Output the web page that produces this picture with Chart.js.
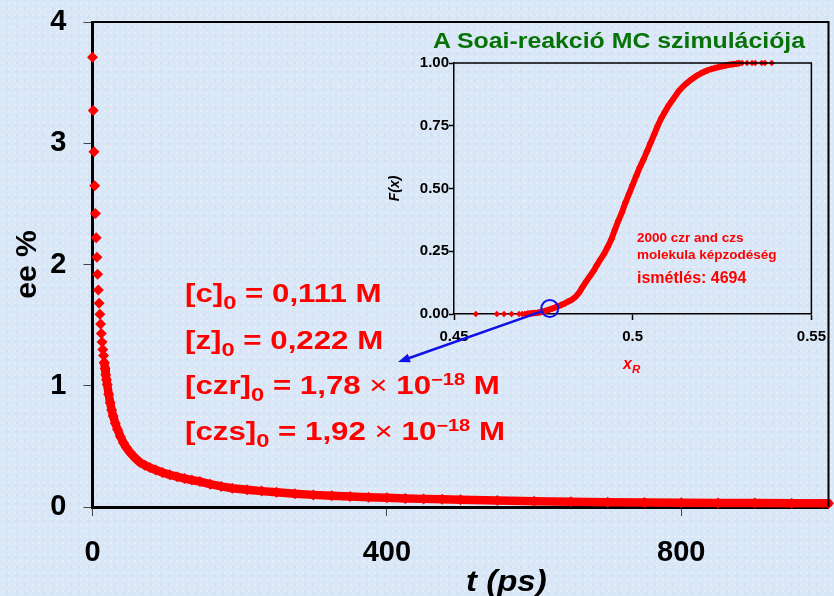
<!DOCTYPE html>
<html>
<head>
<meta charset="utf-8">
<script src="https://cdn.jsdelivr.net/npm/chart.js@4.4.1/dist/chart.umd.min.js"></script>
<style>
  body { margin: 0; }
  #wrap {
    position: relative; width: 834px; height: 596px; overflow: hidden;
    background-color: #d9e7f6;
    background-image:
      radial-gradient(rgba(255,255,255,0.30) 1px, transparent 1.6px),
      radial-gradient(rgba(185,205,235,0.25) 1px, transparent 1.6px),
      radial-gradient(rgba(240,228,240,0.30) 2px, transparent 3px);
    background-size: 6px 6px, 9px 9px, 23px 19px;
    background-position: 0 0, 3px 4px, 7px 2px;
    font-family: "Liberation Sans", Arial, sans-serif;
  }
  canvas { position: absolute; }
  .t { position: absolute; white-space: nowrap; font-weight: bold; line-height: 1; transform-origin: left top; }
  .ann { color: #ff0000; font-size: 25px; transform: scaleX(1.25); left: 185px; }
  .ann .sub { font-size: 19px; position: relative; top: 7px; }
  .ann .sup { font-size: 16px; position: relative; top: -9px; }
  .ann .x { font-weight: normal; }
</style>
</head>
<body>
<div id="wrap">
  <canvas id="main" width="834" height="596" style="left:0;top:0"></canvas>
  <canvas id="inset" width="454" height="400" style="left:380px;top:0"></canvas>

  <div class="t" style="left:433px;top:30px;font-size:22px;color:#077307;transform:scaleX(1.13)">A Soai-reakció MC szimulációja</div>
  <div class="t" style="left:637px;top:231px;font-size:13.5px;color:#ff0000">2000 czr and czs</div>
  <div class="t" style="left:637px;top:248px;font-size:13.5px;color:#ff0000">molekula képzodéség</div>
  <div class="t" style="left:637px;top:270px;font-size:16px;color:#ff0000">ismétlés: 4694</div>
  <div class="t" style="left:623px;top:356px;font-size:16px;color:#ff0000;font-style:italic">x<span style="font-size:11.5px;position:relative;top:4px">R</span></div>

  <div class="t ann" style="top:281px">[c]<span class="sub">0</span> = 0,111 M</div>
  <div class="t ann" style="top:328px">[z]<span class="sub">0</span> = 0,222 M</div>
  <div class="t ann" style="top:373px">[czr]<span class="sub">0</span> = 1,78 <span class="x">×</span> 10<span class="sup">−18</span> M</div>
  <div class="t ann" style="top:419px">[czs]<span class="sub">0</span> = 1,92 <span class="x">×</span> 10<span class="sup">−18</span> M</div>

  <div class="t" style="left:466px;top:566px;font-size:30px;font-style:italic;transform:scaleX(1.1)">t (ps)</div>
</div>

<script>
const FONT = '"Liberation Sans", Arial, sans-serif';

// main chart: ee % vs t (ps)
const earlyT  = [0, 1, 2, 3, 4, 5, 6, 7, 8, 9, 10, 11, 12, 13, 14, 15, 16];
const earlyEe = [3.71, 3.27, 2.93, 2.65, 2.42, 2.22, 2.06, 1.92, 1.79, 1.68, 1.59, 1.51, 1.43, 1.36, 1.30, 1.25, 1.19];
const bandT  = [16, 17, 18, 19, 20, 22, 24, 26, 28, 31, 34, 38, 42, 46, 51, 57, 64, 71, 78, 86, 95, 105, 115, 125, 135, 146,
                160, 175, 190, 210, 230, 250, 275, 300, 325, 350, 375, 400, 425, 450, 475, 500, 550, 600, 650, 700, 750,
                800, 850, 900, 950, 1000];
const bandEe = [1.19, 1.14, 1.09, 1.05, 1.01, 0.93, 0.86, 0.80, 0.75, 0.69, 0.64, 0.58, 0.53, 0.49, 0.45, 0.41, 0.37, 0.345,
                0.325, 0.305, 0.285, 0.265, 0.25, 0.235, 0.222, 0.21, 0.188, 0.170, 0.155, 0.142, 0.131, 0.121, 0.110,
                0.100, 0.092, 0.086, 0.081, 0.076, 0.071, 0.067, 0.063, 0.059, 0.053, 0.047, 0.043, 0.040, 0.038,
                0.036, 0.034, 0.032, 0.031, 0.030];
const mainXTicks = [0, 400, 800];
const mainYTicks = [0, 1, 2, 3, 4];

// inset: F(x) vs x_R
const insetLowX  = [0.4561, 0.4620, 0.4640, 0.4661, 0.4682, 0.4691, 0.4698];
const insetLowF  = [0, 0, 0, 0, 0, 0, 0];
const insetBandX = [0.4706, 0.4713, 0.4720, 0.4727, 0.4734, 0.4741, 0.4748, 0.4755, 0.4762, 0.4769, 0.4776, 0.4783, 0.4790,
                    0.4800, 0.4810, 0.4820, 0.4830, 0.4840, 0.4850, 0.4860, 0.4870, 0.4880, 0.4890, 0.4900, 0.4910,
                    0.4920, 0.4930, 0.4940, 0.4950, 0.4960, 0.4970, 0.4980, 0.4990, 0.5000, 0.5010, 0.5020, 0.5030,
                    0.5040, 0.5050, 0.5060, 0.5070, 0.5080, 0.5090, 0.5100, 0.5110, 0.5120, 0.5130, 0.5140, 0.5150,
                    0.5160, 0.5170, 0.5180, 0.5190, 0.5200, 0.5210, 0.5220, 0.5230, 0.5240, 0.5250, 0.5260, 0.5270,
                    0.5280, 0.5290, 0.5297];
const insetBandF = [0.001, 0.002, 0.003, 0.004, 0.005, 0.007, 0.009, 0.012, 0.015, 0.019, 0.022, 0.026, 0.030,
                    0.036, 0.042, 0.050, 0.057, 0.068, 0.085, 0.108, 0.130, 0.150, 0.170, 0.195, 0.218,
                    0.240, 0.267, 0.297, 0.335, 0.372, 0.405, 0.445, 0.480, 0.515, 0.550, 0.585, 0.615,
                    0.648, 0.682, 0.715, 0.750, 0.780, 0.805, 0.830, 0.850, 0.870, 0.890, 0.905, 0.918,
                    0.930, 0.940, 0.950, 0.958, 0.965, 0.971, 0.976, 0.980, 0.984, 0.987, 0.990, 0.993,
                    0.995, 0.997, 0.999];
const insetHighX = [0.5306, 0.5320, 0.5334, 0.5343, 0.5361, 0.5370, 0.5389];
const insetHighF = [1, 1, 1, 1, 1, 1, 1];
const insetXTicks  = [0.45, 0.5, 0.55];
const insetXLabels = ['0.45', '0.5', '0.55'];
const insetYTicks  = [0, 0.25, 0.5, 0.75, 1];
const insetYLabels = ['0.00', '0.25', '0.50', '0.75', '1.00'];
const circleAt = [0.4768, 0.022]; // blue circle marking the start of the inset curve

const pts = (xs, ys) => xs.map((v, i) => ({ x: v, y: ys[i] }));

// top and right frame of a plot area
const framePlugin = {
  id: 'frame',
  afterDraw(chart, args, opts) {
    const { ctx, chartArea: a } = chart;
    ctx.save();
    ctx.strokeStyle = '#000';
    ctx.lineWidth = opts.width;
    ctx.beginPath();
    ctx.moveTo(a.left, a.top);
    ctx.lineTo(a.right, a.top);
    ctx.lineTo(a.right, a.bottom);
    ctx.stroke();
    ctx.restore();
  }
};

// keep tick label padding from pushing the plot area down
const noPad = s => { s.paddingTop = 0; s.paddingBottom = 0; };

new Chart(document.getElementById('main'), {
  type: 'scatter',
  data: {
    datasets: [
      { data: pts(earlyT, earlyEe), pointStyle: 'rectRot', pointRadius: 5.5, pointBorderWidth: 0,
        pointBackgroundColor: '#ff0000', showLine: false, clip: false },
      { data: pts(bandT, bandEe), pointStyle: 'rectRot', pointRadius: 5.5, pointBorderWidth: 0,
        pointBackgroundColor: '#ff0000', showLine: true, borderColor: '#ff0000', borderWidth: 8.5,
        borderJoinStyle: 'round', borderCapStyle: 'round', clip: false }
    ]
  },
  options: {
    responsive: false, animation: false, devicePixelRatio: 1,
    layout: { padding: { top: 22, right: 4, left: 0, bottom: 0 } },
    plugins: { legend: { display: false }, tooltip: { enabled: false }, frame: { width: 2 } },
    scales: {
      x: {
        type: 'linear', min: 0, max: 1000,
        afterBuildTicks: s => { s.ticks = mainXTicks.map(v => ({ value: v })); },
        afterFit: s => { s.height = 89; },
        grid: { drawOnChartArea: false, tickLength: 9, tickColor: '#444', tickWidth: 1 },
        border: { color: '#000', width: 3 },
        ticks: { color: '#000', padding: 20, maxRotation: 0, autoSkip: false,
                 font: { family: FONT, size: 29, weight: 'bold' } }
      },
      y: {
        min: 0, max: 4,
        afterBuildTicks: s => { s.ticks = mainYTicks.map(v => ({ value: v })); },
        afterFit: s => { s.width = 92.5; noPad(s); },
        grid: { drawOnChartArea: false, tickLength: 9, tickColor: '#444', tickWidth: 1 },
        border: { color: '#000', width: 3 },
        ticks: { color: '#000', padding: 17, font: { family: FONT, size: 29, weight: 'bold' } },
        title: { display: true, text: 'ee %', color: '#000', padding: { top: 10, bottom: 0 },
                 font: { family: FONT, size: 30, weight: 'bold' } }
      }
    }
  },
  plugins: [framePlugin]
});

const markPlugin = {
  id: 'mark',
  afterDatasetsDraw(chart) {
    const { ctx, scales } = chart;
    const cx = scales.x.getPixelForValue(circleAt[0]);
    const cy = scales.y.getPixelForValue(circleAt[1]);
    const r = 8.5;
    const ex = 18, ey = 362; // arrow tip, left of the inset
    const dx = ex - cx, dy = ey - cy, len = Math.hypot(dx, dy);
    const ux = dx / len, uy = dy / len;
    ctx.save();
    ctx.strokeStyle = '#1010e8';
    ctx.fillStyle = '#1010e8';
    ctx.lineWidth = 2;
    ctx.beginPath();
    ctx.arc(cx, cy, r, 0, Math.PI * 2);
    ctx.stroke();
    ctx.lineWidth = 2.5;
    ctx.beginPath();
    ctx.moveTo(cx + ux * r, cy + uy * r);
    ctx.lineTo(ex - ux * 9, ey - uy * 9);
    ctx.stroke();
    ctx.beginPath();
    ctx.moveTo(ex, ey);
    ctx.lineTo(ex - ux * 12 - uy * 4.5, ey - uy * 12 + ux * 4.5);
    ctx.lineTo(ex - ux * 12 + uy * 4.5, ey - uy * 12 - ux * 4.5);
    ctx.closePath();
    ctx.fill();
    ctx.restore();
  }
};

new Chart(document.getElementById('inset'), {
  type: 'scatter',
  data: {
    datasets: [
      { data: pts(insetLowX, insetLowF), pointStyle: 'rectRot', pointRadius: 3.2, pointBorderWidth: 0,
        pointBackgroundColor: '#ff0000', showLine: false, clip: false },
      { data: pts(insetBandX, insetBandF), pointStyle: 'rectRot', pointRadius: 3.6, pointBorderWidth: 0,
        pointBackgroundColor: '#ff0000', showLine: true, borderColor: '#ff0000', borderWidth: 6,
        borderJoinStyle: 'round', borderCapStyle: 'round', clip: false },
      { data: pts(insetHighX, insetHighF), pointStyle: 'rectRot', pointRadius: 3.2, pointBorderWidth: 0,
        pointBackgroundColor: '#ff0000', showLine: false, clip: false }
    ]
  },
  options: {
    responsive: false, animation: false, devicePixelRatio: 1,
    layout: { padding: { top: 63, right: 17, left: 0, bottom: 0 } },
    plugins: { legend: { display: false }, tooltip: { enabled: false }, frame: { width: 1.5 } },
    scales: {
      x: {
        type: 'linear', min: 0.45, max: 0.55,
        afterBuildTicks: s => { s.ticks = insetXTicks.map(v => ({ value: v })); },
        afterFit: s => { s.height = 86; },
        grid: { drawOnChartArea: false, tickLength: 6, tickColor: '#000', tickWidth: 1.5 },
        border: { color: '#000', width: 1.5 },
        ticks: { color: '#000', padding: 8, maxRotation: 0, autoSkip: false,
                 callback: (v, i) => insetXLabels[i],
                 font: { family: FONT, size: 15, weight: 'bold' } }
      },
      y: {
        min: 0, max: 1,
        afterBuildTicks: s => { s.ticks = insetYTicks.map(v => ({ value: v })); },
        afterFit: s => { s.width = 74; noPad(s); },
        grid: { drawOnChartArea: false, tickLength: 5, tickColor: '#000', tickWidth: 1.5 },
        border: { color: '#000', width: 1.5 },
        ticks: { color: '#000', padding: 0, callback: (v, i) => insetYLabels[i],
                 font: { family: FONT, size: 15, weight: 'bold' } },
        title: { display: true, text: 'F(x)', color: '#000', padding: { top: 7, bottom: 0 },
                 font: { family: FONT, size: 14, weight: 'bold', style: 'italic' } }
      }
    }
  },
  plugins: [framePlugin, markPlugin]
});
</script>
</body>
</html>
